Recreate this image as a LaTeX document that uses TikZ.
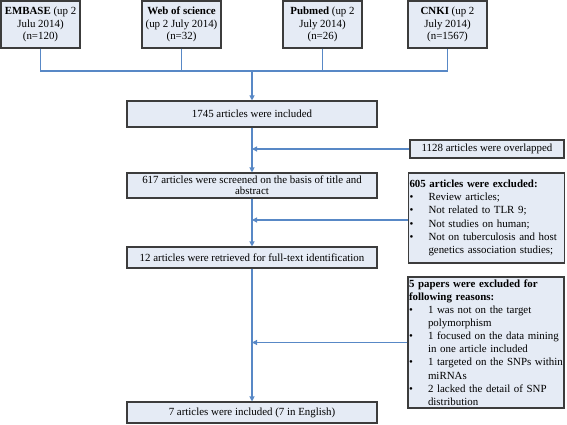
\documentclass[tikz,border=0pt]{standalone}
\usepackage{fontspec}
\setmainfont{Liberation Serif}
\usetikzlibrary{arrows.meta,shadows}
\definecolor{boxfill}{RGB}{229,235,245}
\definecolor{boxline}{RGB}{60,60,60}
\definecolor{flow}{RGB}{88,136,198}
\tikzset{
  fbox/.style={draw=boxline, line width=1.1pt, fill=boxfill, inner sep=2pt,
    font=\fontsize{10.9}{12.6}\selectfont, align=center,
    drop shadow={shadow xshift=0.8pt, shadow yshift=-0.8pt, opacity=0.35, fill=gray}},
  flowline/.style={draw=flow, line width=1.1pt},
  flowarrow/.style={flowline, -{Triangle[width=5pt,length=5pt]}},
}
\newcommand{\bitem}[1]{\mbox{\makebox[19pt][l]{\textbullet}#1}}
\newcommand{\bcont}[1]{\mbox{\hspace*{19pt}#1}}
\begin{document}
\begin{tikzpicture}[x=1pt,y=-1pt]
\useasboundingbox (0,0) rectangle (567,425);
% top sources
\node[fbox, minimum width=79pt, minimum height=47pt] (emb) at (40.5,24.5)
  {\textbf{EMBASE} (up 2\\Julu 2014)\\(n=120)};
\node[fbox, minimum width=79pt, minimum height=47pt] (wos) at (181.5,24.5)
  {\textbf{Web of science}\\(up 2 July 2014)\\(n=32)};
\node[fbox, minimum width=79pt, minimum height=47pt] (pub) at (322.5,24.5)
  {\textbf{Pubmed} (up 2\\July 2014)\\(n=26)};
\node[fbox, minimum width=79pt, minimum height=47pt] (cnki) at (447.5,24.5)
  {\textbf{CNKI} (up 2\\July 2014)\\(n=1567)};
% main column
\node[fbox, minimum width=250pt, minimum height=26pt] (inc) at (252,114)
  {1745 articles were included};
\node[fbox, minimum width=250pt, minimum height=25pt, font=\fontsize{10.9}{11.2}\selectfont] (scr) at (252,185.5)
  {617 articles were screened on the basis of title and\\abstract};
\node[fbox, minimum width=250pt, minimum height=21pt] (ret) at (252,257.5)
  {12 articles were retrieved for full-text identification};
\node[fbox, minimum width=250pt, minimum height=21pt] (fin) at (252,412.5)
  {7 articles were included (7 in English)};
% side boxes
\node[fbox, minimum width=154pt, minimum height=18pt] (ovl) at (487,149)
  {1128 articles were overlapped};
\node[fbox, text width=154pt, inner xsep=1pt, minimum height=90pt, align=left,
      font=\fontsize{10.9}{13.3}\selectfont] (ex1) at (486.5,218)
  {\textbf{605 articles were excluded:}\\
   \bitem{Review articles;}\\
   \bitem{Not related to TLR 9;}\\
   \bitem{Not studies on human;}\\
   \bitem{Not on tuberculosis and host}\\
   \bcont{genetics association studies;}};
\node[fbox, text width=154pt, inner xsep=1pt, minimum height=131pt, align=left,
      font=\fontsize{10.9}{13.1}\selectfont] (ex2) at (486,342.5)
  {\textbf{5 papers were excluded for}\\
   \textbf{following reasons:}\\
   \bitem{1 was not on the target}\\
   \bcont{polymorphism}\\
   \bitem{1 focused on the data mining}\\
   \bcont{in one article included}\\
   \bitem{1 targeted on the SNPs within}\\
   \bcont{miRNAs}\\
   \bitem{2 lacked the detail of SNP}\\
   \bcont{distribution}};
% connectors from sources
\coordinate (jl) at (emb.south |- 0,71);
\coordinate (jr) at (cnki.south |- 0,71);
\coordinate (jc) at (inc.north |- 0,71);
\draw[flowline] (emb.south) -- (jl) -- (jr) -- (cnki.south);
\draw[flowline] (wos.south) -- (wos.south |- jl);
\draw[flowline] (pub.south) -- (pub.south |- jl);
\draw[flowarrow] (jc) -- (inc.north);
% main flow
\draw[flowarrow] (inc.south) -- (scr.north);
\draw[flowarrow] (scr.south) -- (ret.north);
\draw[flowarrow] (ret.south) -- (fin.north);
% exclusions
\draw[flowarrow] (ovl.west) -- (ovl.west -| inc.south);
\draw[flowarrow] (ex1.west |- 0,220) -- (inc.south |- 0,220);
\draw[flowarrow] (ex2.west) -- (ex2.west -| inc.south);
\end{tikzpicture}
\end{document}
